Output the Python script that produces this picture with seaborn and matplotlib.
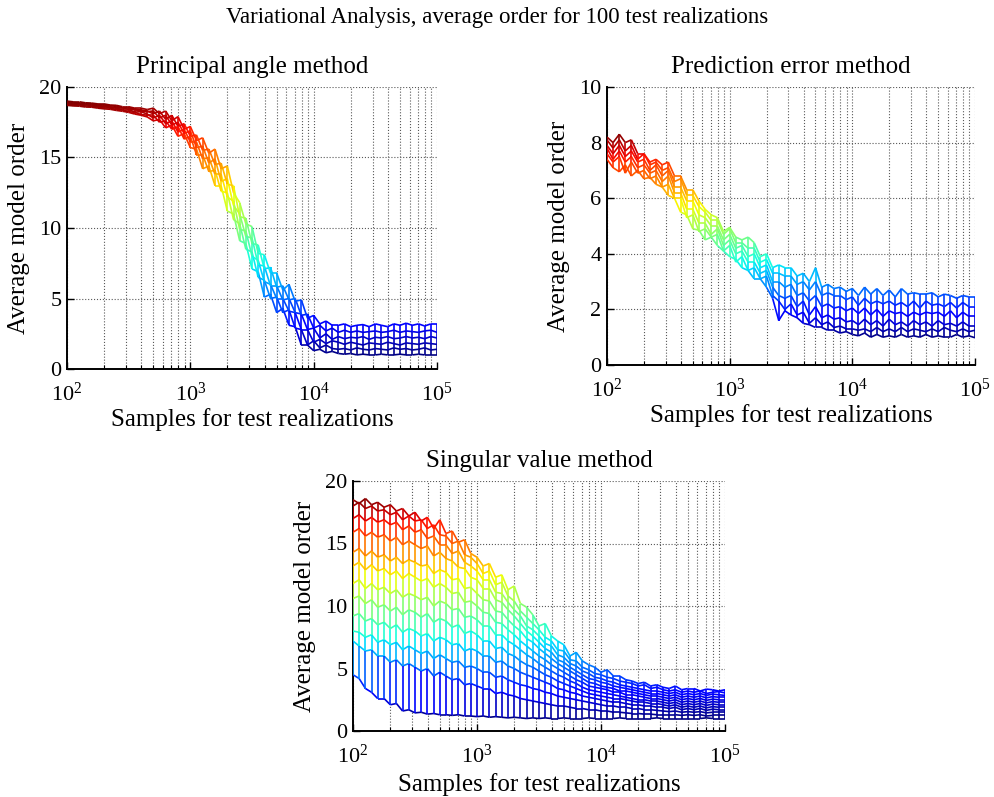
import numpy as np
import matplotlib
matplotlib.use('Agg')
import matplotlib.pyplot as plt
import seaborn as sns
from matplotlib.collections import LineCollection
from matplotlib.colors import Normalize
from matplotlib.ticker import LogLocator, NullFormatter, MultipleLocator

# ---------------- data ----------------
# sample counts (x axis, 20 points per decade)
samples = [100, 112, 126, 141, 158, 178, 200, 224, 251, 282,
           316, 355, 398, 447, 501, 562, 631, 708, 794, 891,
           1000, 1122, 1259, 1413, 1585, 1778, 1995, 2239, 2512, 2818,
           3162, 3548, 3981, 4467, 5012, 5623, 6310, 7079, 7943, 8913,
           10000, 11220, 12589, 14125, 15849, 17783, 19953, 22387, 25119, 28184,
           31623, 35481, 39811, 44668, 50119, 56234, 63096, 70795, 79433, 89125,
           100000]

# Principal angle method, one list per mesh row
pa_0 = [18.7, 18.66, 18.64, 18.58, 18.57, 18.5, 18.45, 18.42, 18.34, 18.28,
        18.2, 18.08, 18.0, 17.88, 17.6, 17.7, 17.1, 17.3, 16.5, 16.7,
        15.7, 15.6, 14.2, 14.4, 13.0, 13.0, 11.2, 11.0, 9.1, 8.9,
        7.1, 6.9, 5.1, 5.3, 4.0, 4.3, 3.1, 3.0, 1.7, 1.7,
        1.3, 1.4, 1.15, 1.25, 1.1, 1.05, 1.1, 1.0, 1.05, 1.0,
        1.0, 1.05, 1.0, 1.0, 1.05, 1.0, 1.0, 1.05, 1.0, 1.0, 1.0]
pa_1 = [18.78, 18.7, 18.72, 18.66, 18.62, 18.58, 18.5, 18.5, 18.4, 18.36,
        18.25, 18.2, 18.05, 18.0, 18.0, 17.5, 17.6, 17.0, 17.2, 16.3,
        16.5, 15.2, 15.2, 14.0, 14.1, 12.6, 12.5, 10.6, 10.3, 8.5,
        8.3, 6.5, 6.3, 5.0, 5.1, 4.0, 4.2, 2.9, 2.8, 1.7,
        2.0, 1.5, 1.7, 1.45, 1.4, 1.45, 1.35, 1.5, 1.4, 1.35,
        1.45, 1.4, 1.35, 1.5, 1.4, 1.45, 1.35, 1.4, 1.5, 1.35, 1.4]
pa_2 = [18.82, 18.76, 18.78, 18.74, 18.68, 18.64, 18.6, 18.54, 18.5, 18.4,
        18.4, 18.22, 18.25, 18.08, 17.8, 18.0, 17.4, 17.6, 16.8, 17.0,
        16.1, 16.1, 14.9, 15.0, 13.8, 13.8, 12.2, 11.9, 9.9, 9.8,
        8.0, 7.7, 6.2, 6.0, 5.0, 5.0, 4.1, 4.0, 2.8, 2.8,
        1.9, 2.1, 1.8, 2.0, 1.9, 1.75, 1.9, 1.8, 1.7, 1.85,
        1.8, 1.75, 1.9, 1.8, 1.7, 1.85, 1.8, 1.75, 1.85, 1.8, 1.75]
pa_3 = [18.88, 18.84, 18.8, 18.78, 18.75, 18.7, 18.64, 18.6, 18.54, 18.5,
        18.42, 18.38, 18.3, 18.25, 18.3, 17.8, 18.0, 17.3, 17.5, 16.7,
        16.9, 15.7, 15.8, 14.6, 14.9, 13.3, 13.5, 11.6, 11.0, 9.4,
        9.3, 7.4, 7.3, 5.9, 5.9, 4.9, 5.0, 4.0, 3.9, 2.8,
        2.9, 2.2, 2.5, 2.1, 2.3, 2.15, 2.25, 2.2, 2.3, 2.1,
        2.25, 2.2, 2.3, 2.15, 2.2, 2.3, 2.2, 2.25, 2.15, 2.3, 2.2]
pa_4 = [18.92, 18.9, 18.86, 18.84, 18.8, 18.76, 18.72, 18.68, 18.62, 18.56,
        18.5, 18.45, 18.38, 18.3, 18.1, 18.3, 17.7, 18.0, 17.2, 17.4,
        16.5, 16.6, 15.5, 15.6, 14.5, 14.6, 13.1, 13.0, 10.8, 10.7,
        8.9, 8.8, 7.1, 7.2, 5.8, 5.9, 4.9, 5.0, 3.8, 3.9,
        2.9, 3.1, 2.7, 2.9, 2.6, 2.75, 2.6, 2.7, 2.6, 2.65,
        2.7, 2.6, 2.65, 2.75, 2.6, 2.7, 2.65, 2.6, 2.7, 2.75, 2.6]
pa_5 = [19.0, 18.95, 18.95, 18.88, 18.86, 18.8, 18.8, 18.72, 18.7, 18.6,
        18.6, 18.5, 18.5, 18.4, 18.5, 18.1, 18.3, 17.6, 17.9, 17.0,
        17.2, 16.2, 16.4, 15.3, 15.6, 14.2, 14.4, 12.5, 11.8, 10.3,
        10.1, 8.2, 8.1, 6.8, 6.8, 5.6, 6.0, 4.8, 4.9, 3.6,
        3.8, 3.2, 3.4, 3.1, 3.1, 3.2, 3.0, 3.1, 3.15, 3.0,
        3.2, 3.1, 3.0, 3.2, 3.1, 3.25, 3.1, 3.2, 3.05, 3.2, 3.2]

# Prediction error method
pe_0 = [7.4, 7.1, 6.95, 7.2, 6.8, 7.0, 6.7, 6.75, 6.5, 6.4,
        6.1, 6.0, 5.5, 5.4, 4.9, 4.85, 4.5, 4.6, 4.3, 4.1,
        3.9, 3.8, 3.5, 3.4, 3.1, 3.1, 2.8, 2.4, 1.6, 1.95,
        1.8, 1.7, 1.5, 1.45, 1.35, 1.35, 1.25, 1.25, 1.15, 1.2,
        1.1, 1.05, 1.15, 1.0, 1.1, 1.0, 1.05, 1.0, 1.1, 1.0,
        1.05, 1.0, 1.1, 1.0, 1.05, 1.0, 1.0, 1.1, 1.0, 1.05, 0.98]
pe_1 = [7.6, 7.3, 7.5, 6.9, 7.3, 6.9, 7.0, 6.7, 6.8, 6.4,
        6.5, 6.0, 6.0, 5.3, 5.4, 4.8, 4.9, 4.6, 4.7, 4.1,
        4.3, 3.7, 3.9, 3.4, 3.5, 3.1, 3.2, 2.5, 2.3, 2.0,
        2.2, 1.8, 1.9, 1.5, 1.7, 1.45, 1.55, 1.35, 1.4, 1.3,
        1.3, 1.25, 1.3, 1.2, 1.35, 1.2, 1.3, 1.2, 1.35, 1.2,
        1.3, 1.25, 1.2, 1.3, 1.2, 1.35, 1.25, 1.2, 1.3, 1.2, 1.25]
pe_2 = [7.8, 7.4, 7.7, 7.3, 7.5, 7.1, 7.2, 6.9, 7.0, 6.6,
        6.8, 6.2, 6.2, 5.6, 5.6, 5.1, 5.1, 4.7, 4.9, 4.3,
        4.5, 4.0, 4.1, 3.7, 3.7, 3.3, 3.4, 2.8, 2.5, 2.4,
        2.5, 2.1, 2.3, 1.8, 2.1, 1.7, 1.8, 1.65, 1.7, 1.55,
        1.6, 1.45, 1.65, 1.45, 1.6, 1.4, 1.65, 1.45, 1.55, 1.4,
        1.6, 1.45, 1.55, 1.4, 1.6, 1.45, 1.5, 1.4, 1.55, 1.4, 1.4]
pe_3 = [7.9, 7.6, 7.9, 7.5, 7.7, 7.3, 7.4, 7.0, 7.2, 6.8,
        7.0, 6.4, 6.4, 5.9, 5.9, 5.4, 5.3, 5.0, 5.0, 4.5,
        4.7, 4.2, 4.3, 3.9, 4.0, 3.5, 3.6, 3.0, 3.0, 2.8,
        2.9, 2.5, 2.6, 2.3, 2.5, 2.1, 2.2, 2.05, 2.1, 1.95,
        2.05, 1.85, 2.05, 1.8, 2.0, 1.75, 1.95, 1.85, 1.9, 1.75,
        1.9, 1.8, 1.9, 1.85, 1.9, 1.75, 1.95, 1.7, 1.9, 1.75, 1.75]
pe_4 = [8.1, 7.8, 8.1, 7.7, 7.9, 7.4, 7.6, 7.2, 7.3, 7.0,
        7.1, 6.6, 6.7, 6.1, 6.1, 5.7, 5.5, 5.2, 5.2, 4.7,
        4.9, 4.4, 4.4, 4.2, 4.2, 3.7, 3.8, 3.3, 3.3, 3.2,
        3.2, 2.9, 3.0, 2.7, 3.0, 2.5, 2.6, 2.5, 2.5, 2.35,
        2.45, 2.15, 2.4, 2.2, 2.3, 2.2, 2.3, 2.15, 2.25, 2.1,
        2.3, 2.05, 2.3, 2.15, 2.2, 2.1, 2.25, 2.05, 2.25, 2.1, 2.1]
pe_5 = [8.2, 8.0, 8.3, 8.0, 8.1, 7.6, 7.6, 7.3, 7.4, 7.2,
        7.3, 6.8, 6.8, 6.3, 6.3, 5.9, 5.6, 5.4, 5.3, 4.8,
        4.95, 4.6, 4.5, 4.6, 4.4, 3.9, 4.0, 3.5, 3.6, 3.5,
        3.5, 3.2, 3.3, 3.0, 3.5, 2.8, 2.9, 2.75, 2.8, 2.65,
        2.75, 2.5, 2.8, 2.55, 2.75, 2.5, 2.7, 2.45, 2.75, 2.55,
        2.6, 2.55, 2.55, 2.6, 2.45, 2.55, 2.5, 2.4, 2.5, 2.45, 2.45]

# Singular value method
sv_0 = [4.5, 4.2, 3.4, 3.1, 2.6, 2.6, 2.1, 2.2, 1.6, 1.7,
        1.45, 1.5, 1.35, 1.4, 1.3, 1.3, 1.25, 1.3, 1.2, 1.2,
        1.15, 1.2, 1.1, 1.15, 1.1, 1.05, 1.1, 1.05, 1.0, 1.05,
        1.0, 1.05, 1.0, 1.0, 1.05, 1.0, 1.0, 1.0, 1.05, 1.0,
        1.0, 1.0, 1.0, 1.05, 1.0, 1.0, 1.0, 1.0, 1.0, 1.05,
        1.0, 1.0, 1.0, 1.0, 1.0, 1.0, 1.0, 1.05, 1.0, 1.0, 1.0]
sv_1 = [7.2, 6.8, 6.4, 6.5, 6.0, 6.0, 5.5, 5.7, 5.2, 5.4,
        5.1, 4.8, 5.0, 4.4, 4.7, 4.4, 4.1, 4.2, 3.7, 3.8,
        3.6, 3.4, 3.4, 3.0, 3.1, 2.9, 2.8, 2.6, 2.5, 2.4,
        2.3, 2.2, 2.1, 2.0, 2.0, 1.9, 1.8, 1.8, 1.7, 1.7,
        1.6, 1.6, 1.5, 1.5, 1.45, 1.4, 1.4, 1.35, 1.35, 1.3,
        1.3, 1.3, 1.3, 1.25, 1.3, 1.25, 1.3, 1.2, 1.25, 1.25, 1.25]
sv_2 = [8.0, 7.9, 7.5, 7.7, 7.1, 7.3, 6.9, 7.1, 6.5, 6.8,
        6.5, 6.2, 6.4, 5.8, 6.1, 5.8, 5.5, 5.6, 5.1, 5.2,
        5.0, 4.7, 4.7, 4.3, 4.4, 4.1, 3.9, 3.7, 3.6, 3.4,
        3.3, 3.1, 3.0, 2.8, 2.7, 2.6, 2.5, 2.4, 2.3, 2.2,
        2.1, 2.0, 2.0, 1.9, 1.9, 1.8, 1.8, 1.7, 1.7, 1.65,
        1.6, 1.55, 1.6, 1.5, 1.55, 1.5, 1.55, 1.45, 1.5, 1.5, 1.5]
sv_3 = [9.2, 9.4, 8.8, 9.0, 8.5, 8.7, 8.2, 8.5, 7.9, 8.2,
        8.0, 7.6, 7.8, 7.2, 7.5, 7.3, 6.9, 7.0, 6.4, 6.6,
        6.4, 6.0, 6.0, 5.5, 5.6, 5.2, 5.0, 4.7, 4.5, 4.3,
        4.1, 3.9, 3.7, 3.4, 3.3, 3.1, 3.0, 2.8, 2.7, 2.6,
        2.5, 2.4, 2.3, 2.3, 2.2, 2.1, 2.1, 2.0, 2.0, 1.9,
        1.9, 1.8, 1.9, 1.7, 1.8, 1.7, 1.8, 1.65, 1.75, 1.7, 1.7]
sv_4 = [10.6, 10.8, 10.2, 10.5, 9.9, 10.1, 9.6, 9.9, 9.3, 9.7,
        9.5, 9.1, 9.4, 8.7, 9.0, 8.8, 8.3, 8.5, 7.8, 8.0,
        7.7, 7.2, 7.2, 6.6, 6.7, 6.2, 6.0, 5.6, 5.3, 5.1,
        4.8, 4.5, 4.3, 4.0, 3.8, 3.6, 3.4, 3.2, 3.0, 2.9,
        2.8, 2.7, 2.6, 2.6, 2.5, 2.4, 2.3, 2.3, 2.2, 2.2,
        2.1, 2.0, 2.1, 1.9, 2.0, 1.9, 2.0, 1.85, 1.95, 1.9, 1.9]
sv_5 = [11.8, 12.1, 11.4, 11.8, 11.3, 11.5, 11.0, 11.3, 10.7, 11.0,
        10.8, 10.5, 10.7, 10.0, 10.4, 10.2, 9.7, 9.8, 9.1, 9.2,
        8.9, 8.4, 8.4, 7.7, 7.7, 7.2, 6.9, 6.5, 6.1, 5.8,
        5.4, 5.1, 4.8, 4.5, 4.3, 4.0, 3.8, 3.5, 3.3, 3.2,
        3.1, 3.0, 2.9, 2.8, 2.7, 2.6, 2.5, 2.5, 2.4, 2.4,
        2.3, 2.2, 2.3, 2.1, 2.2, 2.1, 2.2, 2.05, 2.15, 2.1, 2.1]
sv_6 = [13.2, 13.5, 12.9, 13.3, 12.8, 13.0, 12.5, 12.8, 12.2, 12.6,
        12.3, 12.0, 12.2, 11.5, 11.8, 11.5, 11.0, 11.1, 10.3, 10.4,
        10.0, 9.5, 9.4, 8.7, 8.6, 8.1, 7.7, 7.2, 6.8, 6.4,
        6.0, 5.7, 5.3, 5.0, 4.7, 4.4, 4.1, 3.9, 3.6, 3.5,
        3.4, 3.3, 3.1, 3.1, 2.9, 2.9, 2.8, 2.7, 2.6, 2.6,
        2.5, 2.4, 2.5, 2.3, 2.4, 2.3, 2.4, 2.25, 2.35, 2.3, 2.3]
sv_7 = [14.3, 14.6, 14.0, 14.4, 13.9, 14.1, 13.6, 13.9, 13.4, 13.7,
        13.5, 13.2, 13.3, 12.6, 12.9, 12.7, 12.1, 12.2, 11.4, 11.5,
        11.0, 10.5, 10.4, 9.6, 9.5, 8.9, 8.4, 8.0, 7.4, 7.1,
        6.6, 6.2, 5.8, 5.4, 5.1, 4.8, 4.5, 4.2, 3.9, 3.8,
        3.6, 3.5, 3.4, 3.2, 3.2, 3.1, 3.0, 2.9, 2.8, 2.8,
        2.7, 2.6, 2.7, 2.5, 2.6, 2.5, 2.6, 2.45, 2.55, 2.5, 2.5]
sv_8 = [15.9, 16.2, 15.6, 15.9, 15.5, 15.7, 15.2, 15.5, 14.9, 15.2,
        14.9, 14.6, 14.8, 14.0, 14.3, 13.8, 13.6, 13.1, 13.0, 12.3,
        12.1, 11.4, 11.4, 10.5, 10.3, 9.7, 9.2, 8.6, 8.0, 7.6,
        7.1, 6.6, 6.3, 5.7, 5.5, 5.1, 4.8, 4.5, 4.2, 4.1,
        3.9, 3.8, 3.6, 3.5, 3.4, 3.3, 3.2, 3.1, 3.0, 3.0,
        2.9, 2.8, 2.9, 2.7, 2.8, 2.7, 2.8, 2.65, 2.75, 2.7, 2.7]
sv_9 = [17.0, 17.3, 16.8, 17.1, 16.7, 16.9, 16.5, 16.7, 16.1, 16.4,
        15.9, 16.1, 15.4, 15.6, 14.9, 14.9, 14.2, 14.4, 13.5, 13.2,
        12.8, 12.1, 12.1, 11.1, 11.0, 10.3, 9.7, 9.2, 8.4, 8.1,
        7.6, 7.0, 6.8, 6.1, 5.9, 5.4, 5.2, 4.8, 4.6, 4.3,
        4.2, 4.0, 3.9, 3.7, 3.6, 3.5, 3.4, 3.3, 3.2, 3.2,
        3.1, 3.0, 3.1, 2.9, 3.0, 2.9, 3.0, 2.85, 2.95, 2.9, 2.85]
sv_10 = [18.0, 18.3, 17.8, 18.0, 17.6, 17.7, 17.3, 17.5, 16.9, 17.2,
         16.8, 16.9, 16.2, 16.5, 15.7, 15.6, 15.0, 15.2, 14.1, 13.9,
         13.4, 12.6, 12.8, 11.7, 11.9, 10.8, 10.4, 9.6, 9.1, 8.6,
         8.1, 7.5, 7.2, 6.5, 6.4, 5.7, 5.6, 5.1, 4.9, 4.6,
         4.5, 4.3, 4.2, 4.0, 3.9, 3.8, 3.6, 3.7, 3.4, 3.5,
         3.3, 3.2, 3.3, 3.1, 3.2, 3.1, 3.2, 3.0, 3.1, 3.15, 3.05]
sv_11 = [18.5, 18.2, 18.6, 18.1, 18.3, 17.9, 18.1, 17.6, 17.8, 17.2,
         17.5, 16.8, 17.1, 16.2, 16.9, 15.8, 16.0, 15.1, 15.3, 14.2,
         13.9, 13.2, 13.4, 12.3, 12.5, 11.3, 11.6, 10.2, 9.9, 9.3,
         8.4, 8.6, 7.6, 7.2, 6.9, 6.0, 6.3, 5.6, 5.3, 5.1,
         4.7, 4.9, 4.4, 4.4, 4.1, 4.0, 3.8, 3.9, 3.6, 3.7,
         3.5, 3.4, 3.6, 3.3, 3.4, 3.4, 3.2, 3.35, 3.3, 3.2, 3.3]

panel_titles = ['Principal angle method', 'Prediction error method', 'Singular value method']
suptitle = 'Variational Analysis, average order for 100 test realizations'
xlabel = 'Samples for test realizations'
ylabel = 'Average model order'


def draw_mesh(ax, x, rows):
    """Side view of a MATLAB style mesh: rows along x plus the cross lines, coloured by height (jet)."""
    z = np.array(rows, dtype=float)
    xs = np.array(x, dtype=float)
    norm = Normalize(vmin=z.min(), vmax=z.max())

    # mesh faces are white, so they hide the grid lying behind them
    ax.fill_between(xs, z.min(axis=0), z.max(axis=0), color='white', lw=0, zorder=2)

    segs, vals = [], []
    for row in z:
        for j in range(len(xs) - 1):
            segs.append([(xs[j], row[j]), (xs[j + 1], row[j + 1])])
            vals.append(0.5 * (row[j] + row[j + 1]))
    for j in range(len(xs)):
        for i in range(len(z) - 1):
            segs.append([(xs[j], z[i, j]), (xs[j], z[i + 1, j])])
            vals.append(0.5 * (z[i, j] + z[i + 1, j]))

    lc = LineCollection(segs, cmap='jet', norm=norm, linewidths=1.2, zorder=3)
    lc.set_array(np.array(vals))
    ax.add_collection(lc)


def style_axes(ax, ymax, ystep, title, ylab_x, xlab_y):
    ax.set_xscale('log')
    ax.set_xlim(1e2, 1e5)
    ax.set_ylim(0, ymax)
    ax.yaxis.set_major_locator(MultipleLocator(ystep))
    ax.xaxis.set_major_locator(LogLocator(base=10, numticks=10))
    ax.xaxis.set_minor_locator(LogLocator(base=10, subs=np.arange(2, 10), numticks=40))
    ax.xaxis.set_minor_formatter(NullFormatter())

    ax.set_axisbelow(True)
    ax.grid(True, which='both', axis='x', color='0.35', linestyle=':', linewidth=0.8)
    ax.grid(True, which='major', axis='y', color='0.35', linestyle=':', linewidth=0.8)

    sns.despine(ax=ax)
    for side in ('left', 'bottom'):
        ax.spines[side].set_linewidth(1.4)
        ax.spines[side].set_color('black')

    ax.tick_params(which='both', direction='in', bottom=True, left=True, top=False, right=False,
                   colors='black', labelsize=16)
    ax.tick_params(which='major', length=5, width=1.0)
    ax.tick_params(which='minor', length=3, width=0.8)
    ax.tick_params(axis='x', which='major', pad=10)
    ax.tick_params(axis='y', which='major', pad=4)

    ax.set_title(title, fontsize=18, pad=10)
    ax.set_xlabel(xlabel, fontsize=18)
    ax.set_ylabel(ylabel, fontsize=18)
    ax.xaxis.set_label_coords(0.5, xlab_y)
    ax.yaxis.set_label_coords(ylab_x, 0.5)


sns.set_theme(style='white')
plt.rcParams['font.family'] = ['Liberation Serif', 'DejaVu Serif']
plt.rcParams['mathtext.fontset'] = 'custom'
plt.rcParams['mathtext.rm'] = 'Liberation Serif'
plt.rcParams['mathtext.it'] = 'Liberation Serif:italic'
plt.rcParams['text.color'] = 'black'
plt.rcParams['axes.labelcolor'] = 'black'

W, H = 995, 797
fig = plt.figure(figsize=(W / 100, H / 100), dpi=100)

# axes boxes in pixels: left, top, right, bottom
boxes = [(67, 87, 437, 369), (607, 87, 975, 365), (353, 481, 725, 731)]
axes = [fig.add_axes([l / W, 1 - b / H, (r - l) / W, (b - t) / H]) for l, t, r, b in boxes]

draw_mesh(axes[0], samples, [pa_0, pa_1, pa_2, pa_3, pa_4, pa_5])
draw_mesh(axes[1], samples, [pe_0, pe_1, pe_2, pe_3, pe_4, pe_5])
draw_mesh(axes[2], samples, [sv_0, sv_1, sv_2, sv_3, sv_4, sv_5,
                             sv_6, sv_7, sv_8, sv_9, sv_10, sv_11])

style_axes(axes[0], 20, 5, panel_titles[0], -0.10, -0.14)
style_axes(axes[1], 10, 2, panel_titles[1], -0.10, -0.14)
style_axes(axes[2], 20, 5, panel_titles[2], -0.10, -0.17)

fig.text(0.5, 1 - 18 / H, suptitle, ha='center', va='center', fontsize=16.5)

fig.savefig('out.png', dpi=100)
